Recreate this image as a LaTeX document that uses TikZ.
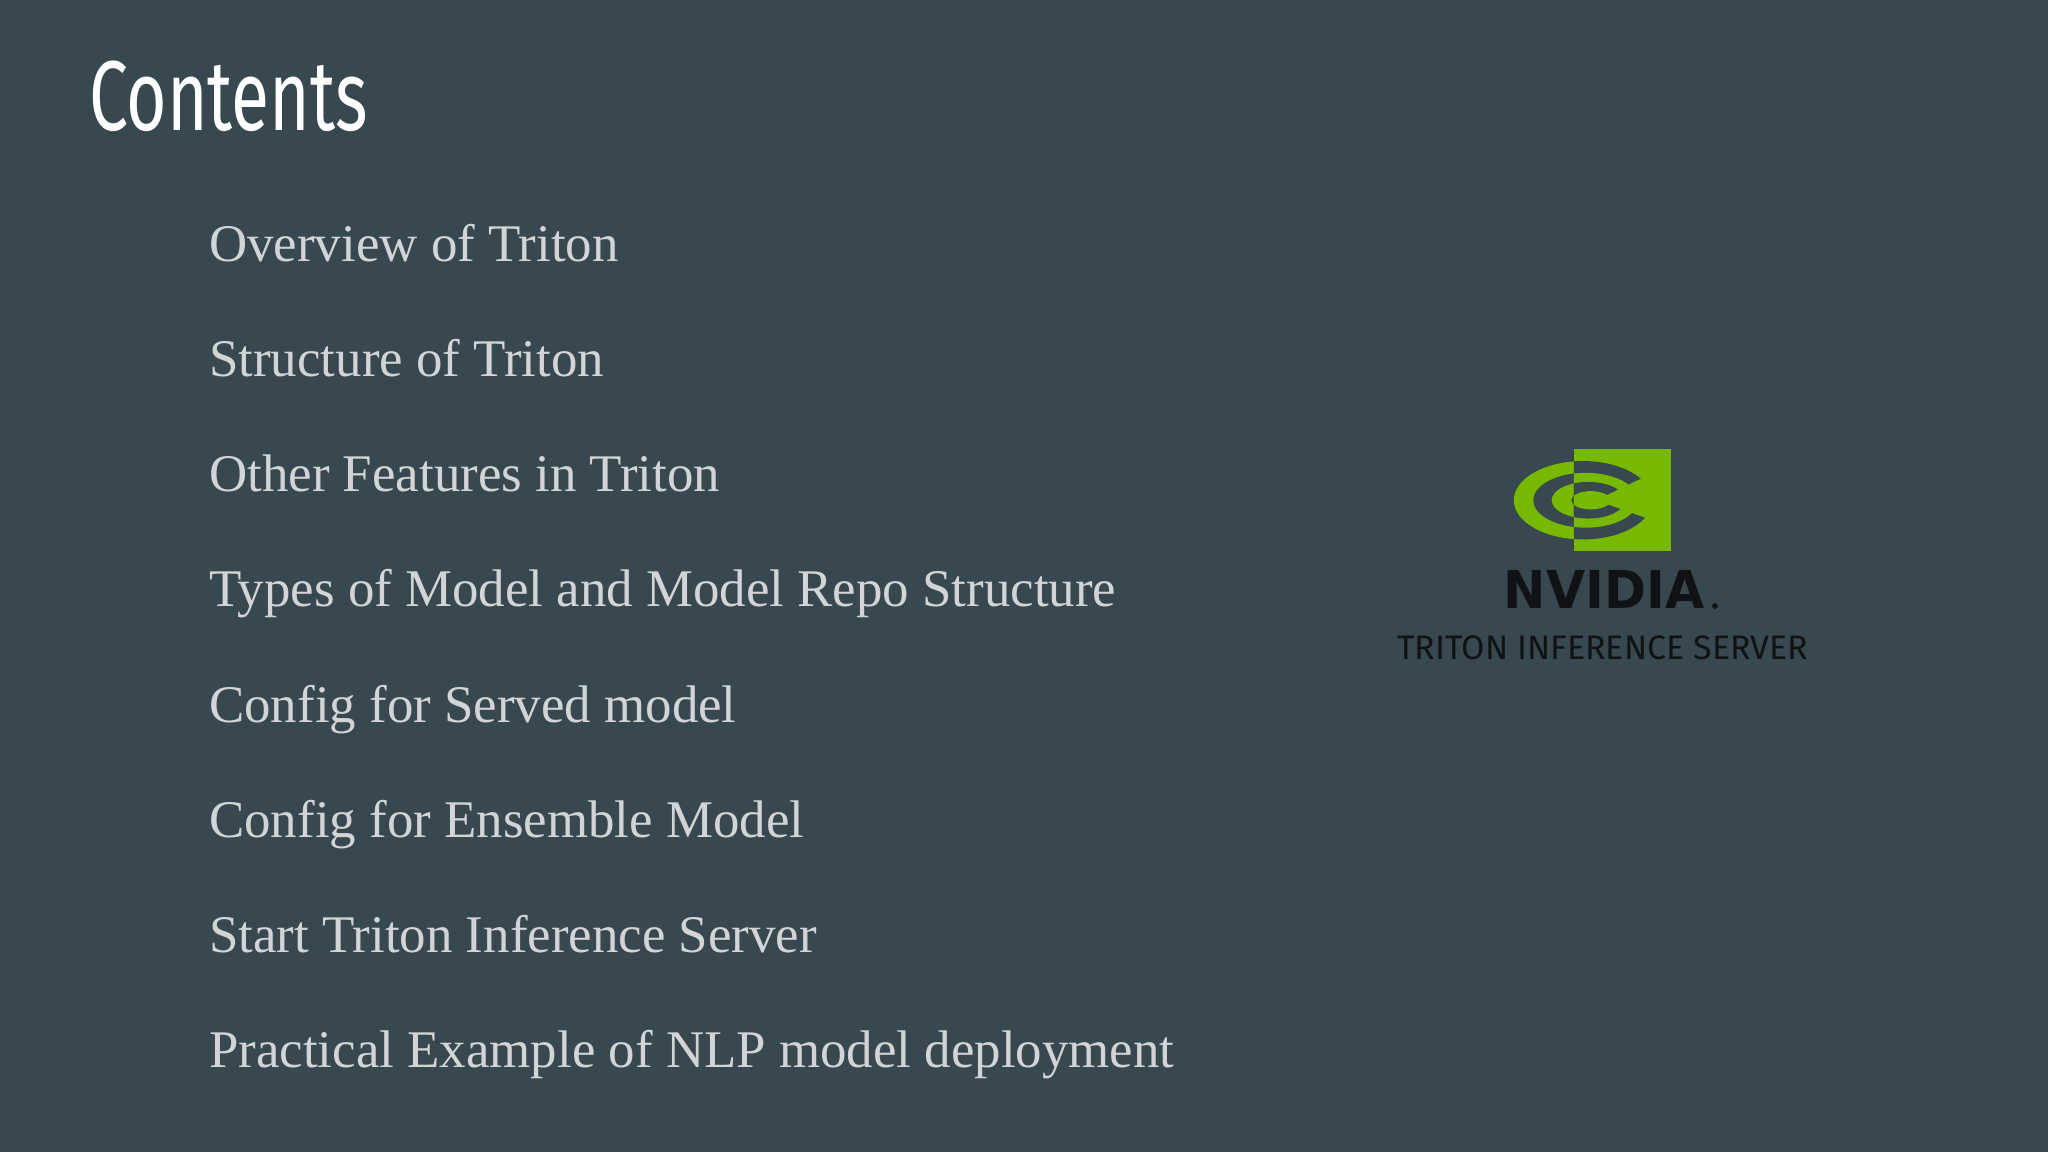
\documentclass[tikz,border=0pt]{standalone}
\usepackage{fontspec}
\setmainfont{Liberation Serif}
\newfontfamily\titlefont{Fira Sans}
\newfontfamily\logofont{DejaVu Sans}
\newfontfamily\subfont{Fira Sans}
\definecolor{bg}{HTML}{374850}
\definecolor{itemc}{HTML}{D2D4D6}
\definecolor{nvgreen}{HTML}{76B900}
\definecolor{logoblack}{HTML}{101214}
\tikzset{item/.style={anchor=base west,inner sep=0pt,text=itemc,font=\fontsize{40.5}{46}\selectfont}}
\begin{document}
\begin{tikzpicture}[x=1pt,y=-1pt]
\fill[bg] (0,0) rectangle (1568,882);
\useasboundingbox (0,0) rectangle (1568,882);
\node[anchor=base west,inner sep=0pt,text=white,font=\titlefont\fontsize{76}{80}\selectfont,xscale=0.70] (title) at (68,100) {Contents};
\foreach \t [count=\i] in {Overview of Triton,Structure of Triton,Other Features in Triton,Types of Model and Model Repo Structure,Config for Served model,Config for Ensemble Model,Start Triton Inference Server,Practical Example of NLP model deployment}
  \node[item] (it\i) at (160,{200+88.2*(\i-1)}) {\t};
% logo
\fill[nvgreen] (1205,344) rectangle (1279,422);
\begin{scope}
\clip (1150,340) rectangle (1205,425);
\fill[nvgreen] (1212,383) ellipse [x radius=53, y radius=30];
\fill[bg] (1214,383) ellipse [x radius=40, y radius=21];
\fill[nvgreen] (1216,383) ellipse [x radius=28, y radius=14];
\fill[bg] (1218,383) ellipse [x radius=15, y radius=7];
\end{scope}
\begin{scope}
\clip (1205,344) rectangle (1279,422);
\fill[bg] (1212,383) ellipse [x radius=53, y radius=30];
\fill[nvgreen] (1214,383) ellipse [x radius=40, y radius=21];
\fill[bg] (1216,383) ellipse [x radius=28, y radius=14];
\fill[nvgreen] (1218,383) ellipse [x radius=15, y radius=7];
\fill[nvgreen] (1222,383) -- (1270,360) -- (1270,400) -- cycle;
\end{scope}
\node[anchor=base,inner sep=0pt,text=logoblack,font=\logofont\bfseries\fontsize{40}{44}\selectfont,xscale=0.97] (nv) at (1228,466) {NVIDIA};
\fill[logoblack] (1313,464) circle (2.2);
\node[anchor=base,inner sep=0pt,text=logoblack,font=\subfont\fontsize{26}{30}\selectfont] (sub) at (1227,505) {TRITON INFERENCE SERVER};
\end{tikzpicture}
\end{document}
